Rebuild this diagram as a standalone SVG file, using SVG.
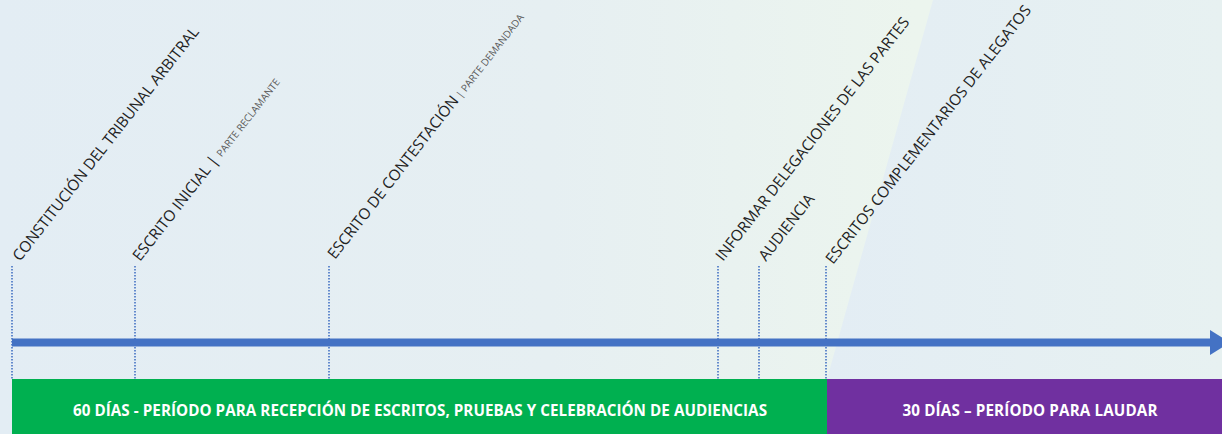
<svg xmlns="http://www.w3.org/2000/svg" width="1222" height="434" viewBox="0 0 1222 434">
<defs>
<linearGradient id="bgL" x1="0" y1="0" x2="1" y2="0">
<stop offset="0" stop-color="#E3EDF4"/>
<stop offset="0.45" stop-color="#E6EFF2"/>
<stop offset="0.75" stop-color="#ECF5EE"/>
<stop offset="1" stop-color="#EDF5EE"/>
</linearGradient>
<linearGradient id="bgR" x1="0" y1="0" x2="1" y2="0">
<stop offset="0" stop-color="#E3EDF4"/>
<stop offset="1" stop-color="#E7F1F1"/>
</linearGradient>
<style>
.lbl{font-family:"Open Sans","Liberation Sans",sans-serif;font-size:15.3px;fill:#222222}
.sm{font-size:10px;fill:#595959}
.tick{stroke:#4472C4;stroke-width:1.6;stroke-dasharray:1.5 1.5;fill:none}
.bartxt{font-family:"Open Sans","Liberation Sans",sans-serif;font-size:15.2px;font-weight:bold;fill:#FFFFFF;text-anchor:middle}
</style>
</defs>
<rect x="0" y="0" width="1222" height="434" fill="url(#bgL)"/>
<polygon points="933,0 1222,0 1222,379 827,379" fill="url(#bgR)"/>

<g id="connectors">
<line class="tick" x1="12" y1="266" x2="12" y2="379"/>
<line class="tick" x1="135" y1="266" x2="135" y2="379"/>
<line class="tick" x1="329" y1="266" x2="329" y2="379"/>
<line class="tick" x1="718" y1="266" x2="718" y2="379"/>
<line class="tick" x1="759" y1="266" x2="759" y2="379"/>
<line class="tick" x1="826" y1="266" x2="826" y2="379"/>
<rect x="12" y="338.5" width="1200" height="8" fill="#4472C4"/>
<polygon points="1210,330 1230,342.5 1210,355" fill="#4472C4"/>
</g>

<g id="n1"><text class="lbl" transform="translate(20,262) rotate(-52)">CONSTITUCIÓN DEL TRIBUNAL ARBITRAL</text></g>
<g id="n2"><text class="lbl" transform="translate(140,262) rotate(-52)">ESCRITO INICIAL | <tspan class="sm">PARTE RECLAMANTE</tspan></text></g>
<g id="n3"><text class="lbl" transform="translate(335,260) rotate(-52)">ESCRITO DE CONTESTACIÓN<tspan class="sm"> | PARTE DEMANDADA</tspan></text></g>
<g id="n4"><text class="lbl" transform="translate(723,262) rotate(-52)">INFORMAR DELEGACIONES DE LAS PARTES</text></g>
<g id="n5"><text class="lbl" transform="translate(766,262) rotate(-52)">AUDIENCIA</text></g>
<g id="n6"><text class="lbl" transform="translate(833,265) rotate(-52)">ESCRITOS COMPLEMENTARIOS DE ALEGATOS</text></g>

<g id="p1">
<rect x="12" y="379" width="815" height="55" fill="#00B050"/>
<text class="bartxt" x="420" y="416" textLength="694" lengthAdjust="spacing">60 DÍAS - PERÍODO PARA RECEPCIÓN DE ESCRITOS, PRUEBAS Y CELEBRACIÓN DE AUDIENCIAS</text>
</g>
<g id="p2">
<rect x="827" y="379" width="395" height="55" fill="#7030A0"/>
<text class="bartxt" x="1030" y="416" textLength="255" lengthAdjust="spacing">30 DÍAS – PERÍODO PARA LAUDAR</text>
</g>
</svg>
